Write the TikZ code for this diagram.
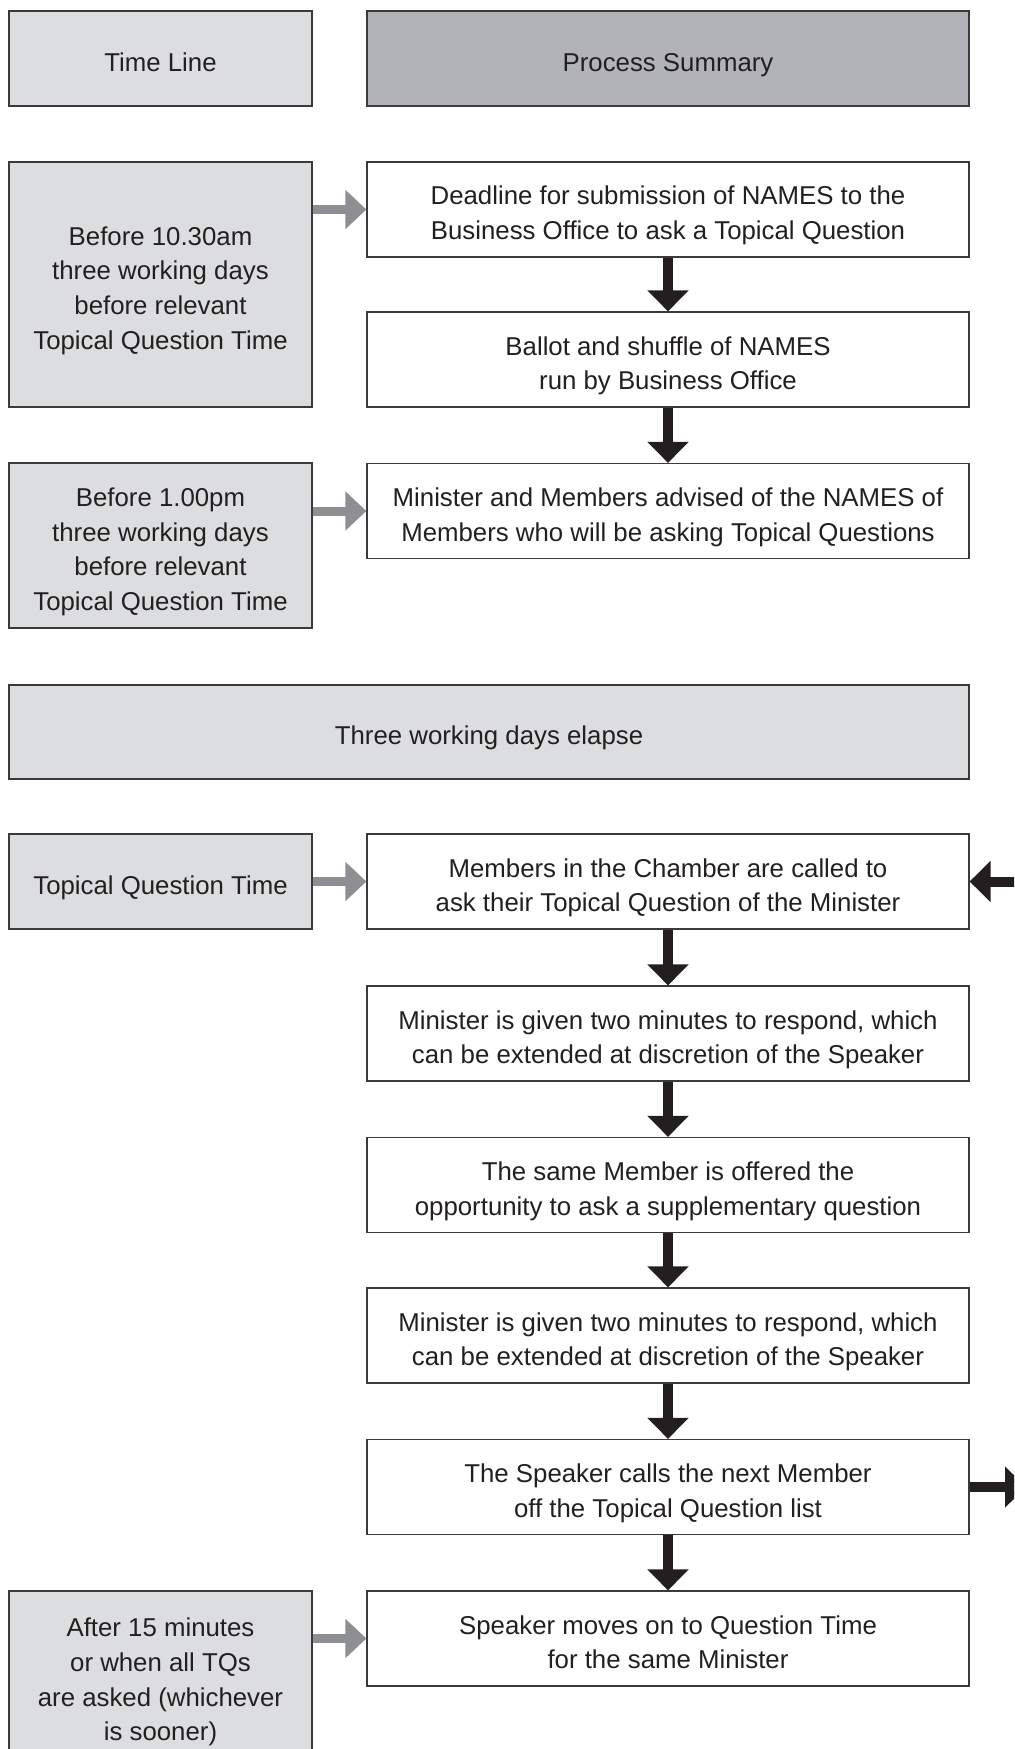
\documentclass[tikz,border=0pt]{standalone}
\usepackage{fontspec}
\setmainfont{Liberation Sans}
\usetikzlibrary{arrows.meta}
\definecolor{lightfill}{HTML}{DCDDDF}
\definecolor{darkfill}{HTML}{B2B3B6}
\definecolor{greyarrow}{HTML}{8E8F92}
\definecolor{txt}{HTML}{231F20}
\definecolor{edge}{HTML}{3A3A3C}
\newcommand\tup{\rule{0pt}{12.8pt}}
\begin{document}
\begin{tikzpicture}[x=0.5pt,y=-0.5pt,
  base/.style={draw=edge,line width=0.6pt,align=center,text=txt,inner sep=0pt,
    text depth=0pt,font=\fontsize{12.9}{17.3}\selectfont},
  procbox/.style={base,fill=white,minimum width=301pt,minimum height=47.5pt},
  timebox/.style={base,fill=lightfill,minimum width=151.5pt},
  headbox/.style={base,minimum height=47.5pt},
  darkarrow/.style={draw=txt,line width=5pt,-{Triangle[length=10.5pt,width=20pt]}},
  greyconn/.style={draw=greyarrow,line width=4.5pt,-{Triangle[length=10.5pt,width=19pt]}}]
\clip (0,0) rectangle (1014,1749);
\fill[white] (0,0) rectangle (1014,1749);

% headers
\node[headbox,fill=lightfill,minimum width=151.5pt] (tl) at (160.5,58.5) {\tup Time Line};
\node[headbox,fill=darkfill,minimum width=301pt] (ps) at (668,58.5) {\tup Process Summary};

% time line boxes
\node[timebox,minimum height=122.5pt] (ta) at (160.5,284.5) {\tup Before 10.30am\\three working days\\before relevant\\Topical Question Time};
\node[timebox,minimum height=82.5pt] (tb) at (160.5,545.5) {\tup Before 1.00pm\\three working days\\before relevant\\Topical Question Time};
\node[timebox,minimum height=47.5pt] (tc) at (160.5,881.5) {\tup Topical Question Time};
\node[timebox,minimum height=85pt] (td) at (160.5,1676) {\tup After 15 minutes\\or when all TQs\\are asked (whichever\\is sooner)};

% elapse box
\node[headbox,fill=lightfill,minimum width=480pt,minimum height=47pt] (el) at (489,732) {\tup Three working days elapse};

% process boxes
\node[procbox] (p1) at (668,209.5) {\tup Deadline for submission of NAMES to the\\Business Office to ask a Topical Question};
\node[procbox] (p2) at (668,359.5) {\tup Ballot and shuffle of NAMES\\run by Business Office};
\node[procbox] (p3) at (668,511) {\tup Minister and Members advised of the NAMES of\\Members who will be asking Topical Questions};
\node[procbox] (p4) at (668,881.5) {\tup Members in the Chamber are called to\\ask their Topical Question of the Minister};
\node[procbox] (p5) at (668,1033.5) {\tup Minister is given two minutes to respond, which\\can be extended at discretion of the Speaker};
\node[procbox] (p6) at (668,1185) {\tup The same Member is offered the\\opportunity to ask a supplementary question};
\node[procbox] (p7) at (668,1335.5) {\tup Minister is given two minutes to respond, which\\can be extended at discretion of the Speaker};
\node[procbox] (p8) at (668,1487) {\tup The Speaker calls the next Member\\off the Topical Question list};
\node[procbox] (p9) at (668,1638.5) {\tup Speaker moves on to Question Time\\for the same Minister};

% grey connectors
\draw[greyconn] (ta.east |- p1.west) -- (p1.west);
\draw[greyconn] (tb.east |- p3.west) -- (p3.west);
\draw[greyconn] (tc.east) -- (p4.west);
\draw[greyconn] (td.east |- p9.west) -- (p9.west);

% dark connectors
\draw[darkarrow] (p1.south) -- (p2.north);
\draw[darkarrow] (p2.south) -- (p3.north);
\draw[darkarrow] (p4.south) -- (p5.north);
\draw[darkarrow] (p5.south) -- (p6.north);
\draw[darkarrow] (p6.south) -- (p7.north);
\draw[darkarrow] (p7.south) -- (p8.north);
\draw[darkarrow] (p8.south) -- (p9.north);

% loop back (cut off by page edge)
\coordinate (loopout) at (1026,1487);
\coordinate (loopin) at (1040,881.5);
\draw[darkarrow] (p8.east) -- (loopout);
\draw[darkarrow] (loopin) -- (p4.east);
\end{tikzpicture}
\end{document}
